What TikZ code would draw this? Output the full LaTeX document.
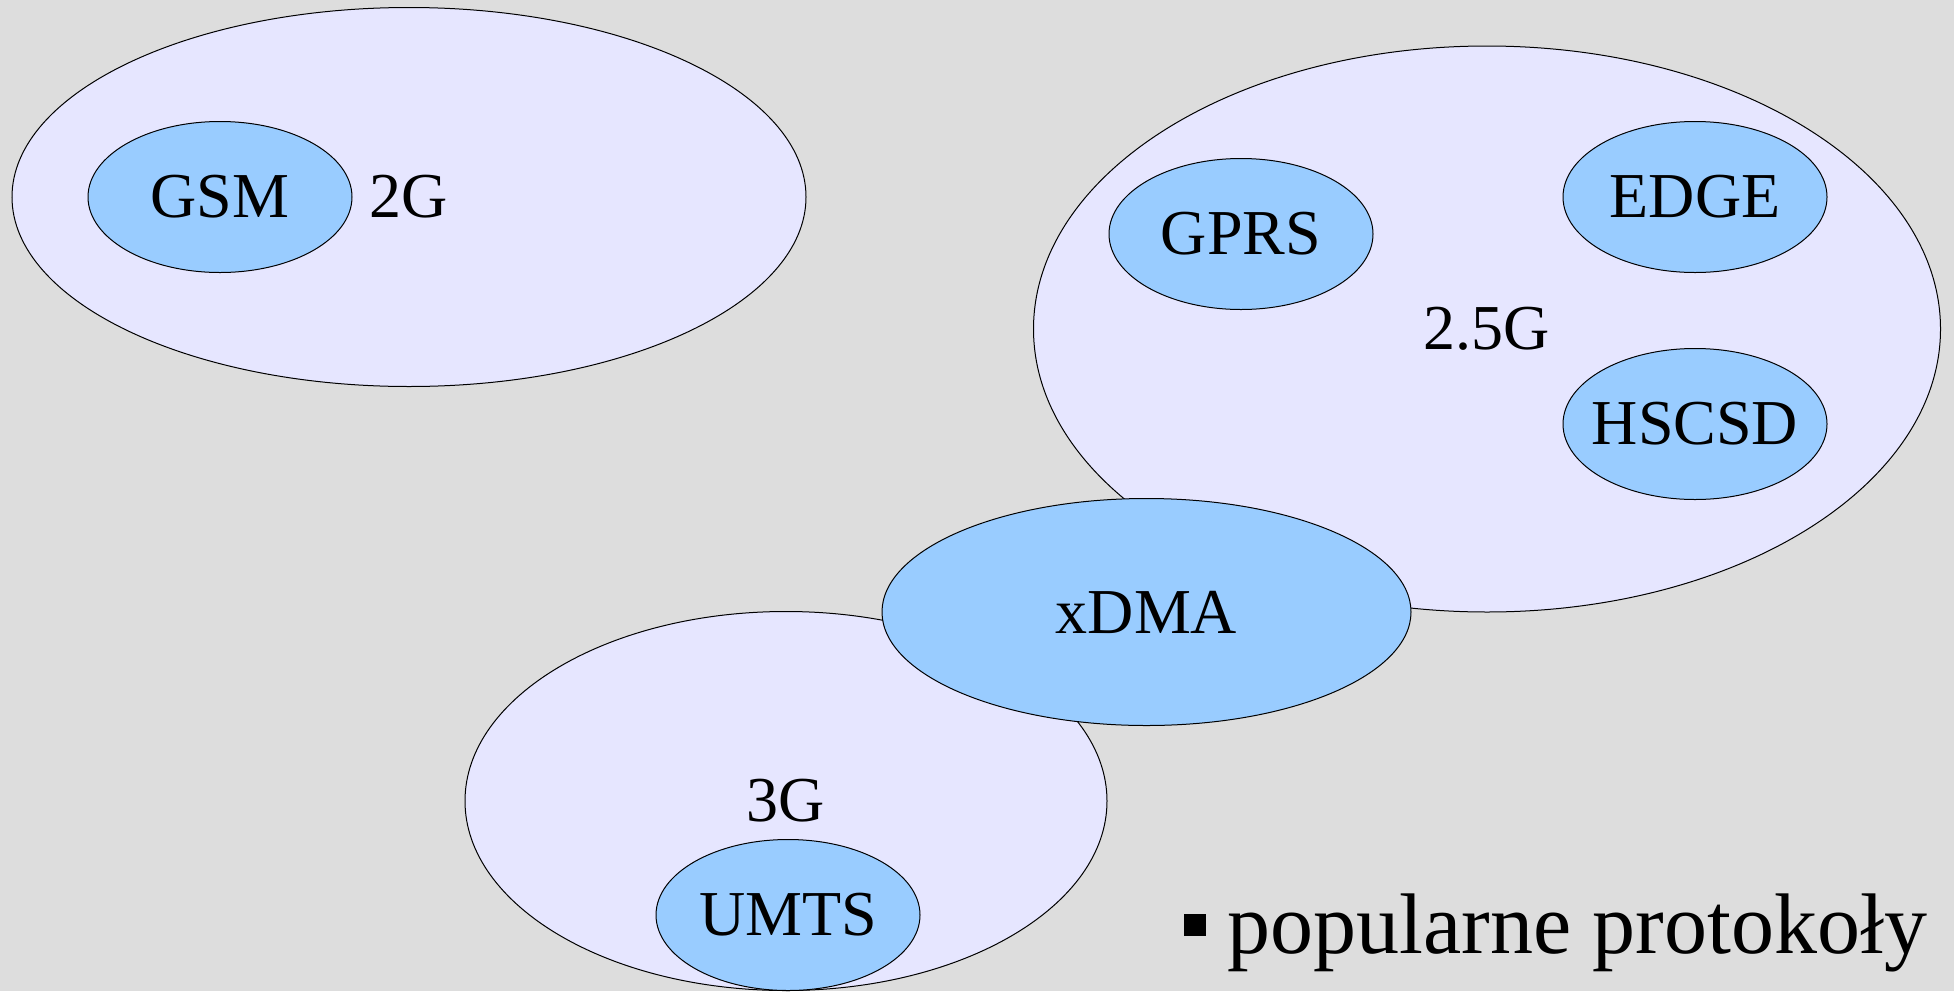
\documentclass[tikz,border=0pt]{standalone}
\usepackage{fontspec}
\setmainfont{Liberation Serif}
\usetikzlibrary{shapes.geometric}
\definecolor{bggray}{HTML}{DDDDDD}
\definecolor{genfill}{HTML}{E6E6FF}
\definecolor{protofill}{HTML}{99CCFF}
\newcommand{\bigtext}[0]{\fontsize{32}{38}\selectfont}
\tikzset{
  gen/.style={ellipse, draw=black, line width=0.5pt, fill=genfill, inner sep=0pt, font=\bigtext},
  proto/.style={ellipse, draw=black, line width=0.5pt, fill=protofill, inner sep=0pt, font=\bigtext,
    minimum width=132pt, minimum height=75.5pt}
}
\begin{document}
\begin{tikzpicture}[x=0.5pt, y=-0.5pt]
\fill[bggray] (0,0) rectangle (1954,991);
\useasboundingbox (0,0) rectangle (1954,991);
% generations
\node[gen, minimum width=397pt, minimum height=189.5pt] (gtwo) at (409,197) {2G};
\node[gen, minimum width=453.5pt, minimum height=283pt] (gtwohalf) at (1487,329) {2.5G};
\node[gen, minimum width=321pt, minimum height=189.5pt] (gthree) at (786,801) {3G};
\node[proto, minimum width=264.5pt, minimum height=113.5pt] (xdma) at (1146.5,612) {xDMA};
% protocols
\node[proto] (gsm) at (220,197) {GSM};
\node[proto] (gprs) at (1241,234) {GPRS};
\node[proto] (edge) at (1695,197) {EDGE};
\node[proto] (hscsd) at (1695,424) {\makebox[0pt]{HSCSD}};
\node[proto] (umts) at (788,915) {UMTS};
% note
\node[fill=black, minimum size=11pt, inner sep=0pt] (bullet) at (1195,925) {};
\node[anchor=base west, inner sep=0pt, font=\fontsize{43}{50}\selectfont] (note) at (1227,953) {popularne protokoły};
\end{tikzpicture}
\end{document}
